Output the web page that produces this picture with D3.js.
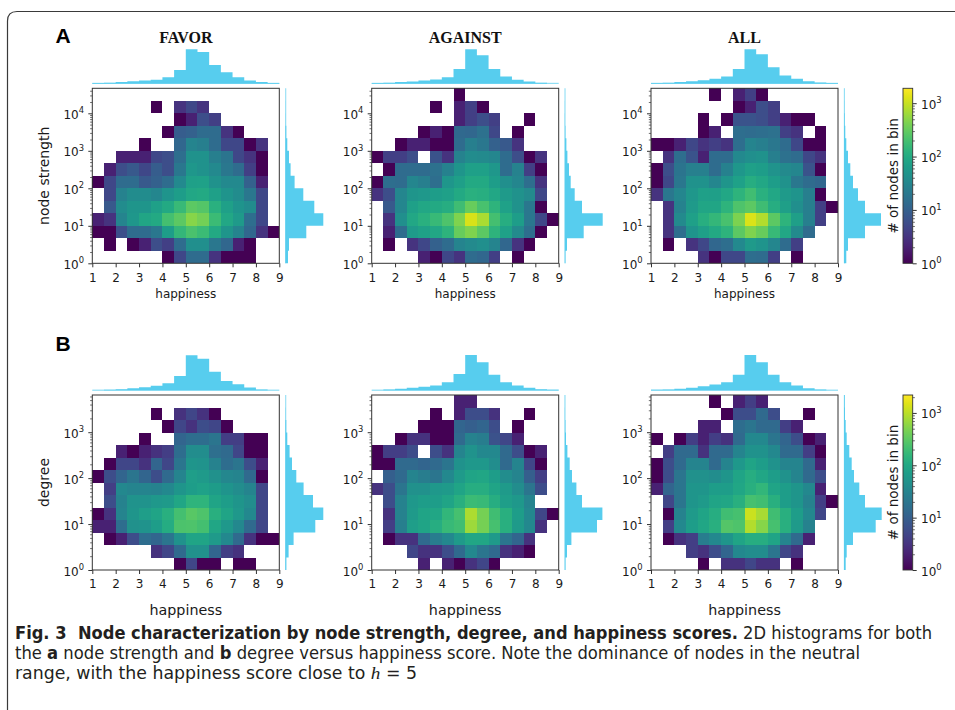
<!DOCTYPE html>
<html>
<head>
<meta charset="utf-8">
<script src="https://cdn.jsdelivr.net/npm/d3@7"></script>
<style>
  body { margin: 0; background: #fff; }
  svg { display: block; }
</style>
</head>
<body>
<svg id="fig" width="955" height="710"></svg>
<script>
// ---------------------------------------------------------------------------
// Data: 2D histograms of happiness (16 bins of 0.5 from 1 to 9) against
// node strength / degree (14 logarithmic bins). Each grid lists its rows from
// the highest bin down to the lowest; 0 means an empty bin.
// ---------------------------------------------------------------------------
const happinessEdges = [1, 1.5, 2, 2.5, 3, 3.5, 4, 4.5, 5, 5.5, 6, 6.5, 7, 7.5, 8, 8.5, 9];
const happinessTicks = [1, 2, 3, 4, 5, 6, 7, 8, 9];
const stanceTitles = ["FAVOR", "AGAINST", "ALL"];

// upper edge of the log bins (log10) for each quantity
const strengthTopExp = 14 / 3;
const degreeTopExp = 3.81;
// upper end of the colour scale (# of nodes in bin)
const strengthColorMax = 1900;
const degreeColorMax = 2200;

const favorStrength = [
  [0,0,0,0,0,0,0,0,0,0,0,0,0,0,0,0],
  [0,0,0,0,0,1,0,3,5,3,0,0,0,0,0,0],
  [0,0,0,0,0,0,0,1,2,6,4,0,0,0,0,0],
  [0,0,0,0,0,0,1,9,10,14,14,3,1,0,0,0],
  [0,0,0,0,1,0,0,12,30,25,14,5,5,1,3,0],
  [0,0,2,2,2,5,6,15,45,45,25,18,5,3,1,0],
  [0,2,6,8,5,9,6,20,55,45,35,20,14,4,1,0],
  [1,5,14,14,8,10,14,35,70,72,45,35,35,10,2,0],
  [0,5,28,38,38,32,50,65,90,95,70,50,38,20,5,0],
  [0,8,38,52,52,70,95,160,280,250,120,70,50,38,5,0],
  [2,3,30,55,85,95,200,280,480,380,170,90,60,15,5,0],
  [1,1,6,14,14,20,65,150,220,170,95,52,30,12,3,1],
  [0,1,0,1,2,6,4,14,42,42,20,12,2,1,0,0],
  [0,0,0,0,0,0,1,5,14,14,3,1,1,1,0,0]
];
const againstStrength = [
  [0,0,0,0,0,0,0,1,0,0,0,0,0,0,0,0],
  [0,0,0,0,0,1,0,2,4,1,0,0,0,0,0,0],
  [0,0,0,0,0,0,0,2,4,6,4,0,0,1,0,0],
  [0,0,0,0,1,2,1,13,12,16,5,0,1,0,0,0],
  [0,0,1,2,2,1,1,14,25,20,10,8,3,0,0,0],
  [1,4,4,6,0,7,3,28,38,36,32,14,6,1,3,0],
  [0,1,14,14,14,16,27,52,70,70,55,14,28,4,1,0],
  [1,15,14,32,25,15,53,68,95,95,65,42,32,15,3,0],
  [3,6,32,52,56,65,70,95,120,115,90,60,45,36,5,0],
  [0,8,32,70,90,95,110,180,330,210,130,72,45,20,1,0],
  [0,3,42,90,120,160,230,440,1200,720,200,110,65,20,5,1],
  [0,2,14,60,75,90,130,330,440,280,130,72,36,15,1,0],
  [0,1,0,3,5,10,14,30,36,42,30,12,3,1,0,0],
  [0,0,0,0,2,1,5,3,14,12,4,0,1,0,0,0]
];
const allStrength = [
  [0,0,0,0,0,1,0,2,4,1,0,0,0,0,0,0],
  [0,0,0,0,0,0,0,1,2,6,4,0,0,0,0,0],
  [0,0,0,0,1,0,1,7,7,6,4,2,1,1,0,0],
  [0,0,0,0,1,2,0,15,14,15,16,4,3,0,1,0],
  [1,1,2,5,3,4,3,15,30,25,20,14,5,1,1,0],
  [0,3,15,7,2,14,14,35,42,45,25,16,14,5,3,0],
  [1,6,18,26,26,14,27,55,70,65,48,36,32,7,1,0],
  [1,5,20,47,45,32,52,72,110,90,65,45,20,14,12,0],
  [3,20,32,55,70,68,90,130,190,120,90,60,50,25,1,0],
  [0,3,28,60,85,85,130,230,280,180,110,68,42,25,4,1],
  [0,3,36,70,115,150,210,430,1250,800,280,130,68,25,4,0],
  [0,3,15,50,68,95,130,280,440,330,160,90,36,14,0,0],
  [0,1,0,3,5,12,15,35,60,50,32,14,4,0,0,0],
  [0,0,0,0,3,1,5,5,15,14,4,0,1,0,0,0]
];
const favorDegree = [
  [0,0,0,0,0,0,0,0,0,0,0,0,0,0,0,0],
  [0,0,0,0,0,1,0,3,5,3,1,0,0,0,0,0],
  [0,0,0,0,0,0,1,5,3,6,5,1,0,0,0,0],
  [0,0,0,0,1,0,0,12,15,15,20,4,4,1,1,0],
  [0,0,2,1,2,3,4,15,42,42,16,14,5,1,1,0],
  [0,1,5,5,3,12,5,20,55,52,30,15,20,6,2,0],
  [1,6,12,20,12,6,14,32,72,65,48,35,32,14,1,0],
  [0,4,36,32,32,30,36,56,70,80,68,53,42,32,5,0],
  [0,6,30,52,52,60,65,95,150,150,90,70,55,42,5,0],
  [1,3,32,55,72,90,130,220,300,260,130,90,60,36,5,0],
  [2,2,15,47,52,70,115,250,260,220,95,60,36,14,5,0],
  [0,1,2,6,15,12,20,50,90,90,65,36,14,3,1,1],
  [0,0,0,0,0,3,5,14,48,48,12,4,3,0,0,0],
  [0,0,0,0,0,0,0,1,5,1,1,0,1,1,0,0]
];
const againstDegree = [
  [0,0,0,0,0,0,0,2,2,0,0,0,0,0,0,0],
  [0,0,0,0,0,1,0,2,6,6,3,0,0,1,0,0],
  [0,0,0,0,1,1,1,12,10,12,6,0,1,0,0,0],
  [0,0,1,3,3,1,1,14,30,25,7,5,2,0,0,0],
  [1,4,4,6,0,6,3,32,52,36,36,14,6,1,2,0],
  [1,1,14,14,12,14,20,50,60,60,42,14,32,5,1,0],
  [0,10,14,32,25,20,36,65,90,95,70,42,32,10,4,0],
  [3,6,20,48,48,60,65,90,120,120,90,65,42,20,6,0],
  [0,6,30,60,70,70,90,130,190,180,120,72,60,32,0,0],
  [0,3,30,65,90,95,160,230,850,440,210,130,70,36,5,1],
  [0,4,27,72,90,120,180,210,720,440,230,130,65,36,3,0],
  [0,1,3,3,14,25,36,65,95,95,65,20,12,3,0,0],
  [0,0,0,5,3,3,6,14,36,20,14,3,2,1,0,0],
  [0,0,0,0,2,0,2,1,3,5,1,0,0,0,0,0]
];
const allDegree = [
  [0,0,0,0,0,1,0,2,4,2,0,0,0,0,0,0],
  [0,0,0,0,0,0,1,6,6,14,6,0,0,1,0,0],
  [0,0,0,0,2,2,0,15,20,14,14,4,2,0,0,0],
  [1,0,1,4,2,4,3,14,36,36,20,12,6,1,2,0],
  [0,4,14,14,3,14,14,32,50,50,36,14,14,4,1,0],
  [1,6,14,32,32,14,32,60,90,70,50,32,32,14,2,0],
  [1,6,20,48,48,42,55,90,120,95,70,50,32,14,6,0],
  [2,12,20,55,55,70,70,95,130,160,90,70,55,36,2,0],
  [0,5,20,55,65,90,95,130,230,210,130,70,55,30,4,1],
  [0,1,30,65,90,120,210,230,1200,800,210,130,70,36,5,0],
  [0,4,36,70,95,130,280,260,900,550,230,130,65,30,0,0],
  [0,1,3,4,25,36,55,90,120,120,90,32,14,2,0,0],
  [0,0,0,4,3,6,12,36,42,42,20,5,3,0,0,0],
  [0,0,0,0,1,0,3,3,5,3,3,0,1,0,0,0]
];

// marginal histograms of happiness (relative heights, one per happiness bin)
const favorStrengthTop   = [0.7,1,1.7,2.7,3.3,4,6.7,14,35,32.3,19,11.7,6.7,3.3,1.7,0.7];
const againstStrengthTop = [0.7,1,1.7,2.3,3.3,4.3,6.7,15,35,29,15,7.3,4,2.3,1,0.3];
const allStrengthTop     = [0.7,1,1.7,2.7,3.7,5,7.3,15,35,30,16.7,8.3,5,2.7,1.3,0.7];
const favorDegreeTop     = [0.3,0.7,1.3,2.3,3.3,4.7,7.3,14.7,35.7,32.3,19,9.7,6.3,3,1,0.3];
const againstDegreeTop   = [0.3,1,1.7,2.7,3.7,5,8.3,16.7,36,28.7,16,8.3,5,2.7,1.3,0.7];
const allDegreeTop       = [0.7,1,1.7,2.7,4.3,6,8.3,16,36,28.7,16,8.3,5,2.3,1,0.3];

// marginal histograms of strength / degree (relative widths, highest bin first)
const favorStrengthSide   = [0.1,0.2,0.3,1,2,3.7,5.3,9.3,18,29,38,21,3.7,2.7];
const againstStrengthSide = [0.1,0.2,0.3,0.7,1.7,2.7,4.3,6,10,17.3,38,19,2.3,0.7];
const allStrengthSide     = [0.2,0.3,0.7,1.3,2.3,4,6.3,9,14,21,37,21,4,2.3];
const favorDegreeSide     = [0.1,0.3,1,2,4.3,6.7,11,18.3,27.7,38,30,8.3,3.3,1];
const againstDegreeSide   = [0.2,0.3,0.7,1.3,2.7,5,7.3,11.7,17.3,37.7,32.3,6.7,2.3,0.7];
const allDegreeSide       = [0.7,1,1.7,2.7,5.3,7.7,10,15.3,21,37.7,31.7,9,2.7,1.7];

const colorbarTicks = [1, 10, 100, 1000];

// ---------------------------------------------------------------------------
// Layout
// ---------------------------------------------------------------------------
const svg = d3.select("#fig");
const SANS = "'DejaVu Sans', 'Liberation Sans', sans-serif";
const HIST = "#57cdee";
const INK = "#1a1a1a";
const panelLeft = [92.3, 371.7, 651];
const pw = 187, ph = 175;

const figureRows = [
  {
    letter: "A", letterY: 43, ylabel: "node strength", topExp: strengthTopExp,
    vmax: strengthColorMax, top: 88.3, xlabelSize: 12, xlabelOffset: 34.2,
    grids: [favorStrength, againstStrength, allStrength],
    tops: [favorStrengthTop, againstStrengthTop, allStrengthTop],
    sides: [favorStrengthSide, againstStrengthSide, allStrengthSide]
  },
  {
    letter: "B", letterY: 350.7, ylabel: "degree", topExp: degreeTopExp,
    vmax: degreeColorMax, top: 395, xlabelSize: 14.3, xlabelOffset: 45,
    grids: [favorDegree, againstDegree, allDegree],
    tops: [favorDegreeTop, againstDegreeTop, allDegreeTop],
    sides: [favorDegreeSide, againstDegreeSide, allDegreeSide]
  }
];

// figure frame (rounded top-left corner)
svg.append("path")
  .attr("d", "M7.5,710 V21 Q7.5,11.5 17,11.5 H955")
  .attr("fill", "none").attr("stroke", "#3a3a3a").attr("stroke-width", 1.2);

// "10^k" label helper
function powerLabel(sel, value, size) {
  const exp = Math.round(Math.log10(value));
  sel.text("10");
  sel.append("tspan").attr("dy", -0.46 * size).attr("font-size", size * 0.7).text(exp);
}

function minorTicks(maxValue) {
  const out = [];
  for (let d = 0; Math.pow(10, d) <= maxValue; d++) {
    for (let m = 2; m <= 9; m++) {
      const v = m * Math.pow(10, d);
      if (v <= maxValue) out.push(v);
    }
  }
  return out;
}

figureRows.forEach(row => {
  const top = row.top, bottom = top + ph;
  const yMax = Math.pow(10, row.topExp);
  const yEdges = d3.range(15).map(k => Math.pow(10, k * row.topExp / 14));
  const color = d3.scaleSequentialLog(d3.interpolateViridis).domain([1, row.vmax]);
  const majors = d3.range(0, Math.floor(row.topExp) + 1).map(k => Math.pow(10, k));

  // panel letter
  svg.append("text").attr("x", 55.5).attr("y", row.letterY)
    .attr("font-family", "'Liberation Sans', Arial, sans-serif").attr("font-weight", 900)
    .attr("font-size", 21).attr("fill", "#000").text(row.letter);

  row.grids.forEach((grid, col) => {
    const left = panelLeft[col], right = left + pw;
    const g = svg.append("g");
    const x = d3.scaleLinear().domain([1, 9]).range([left, right]);
    const y = d3.scaleLog().domain([1, yMax]).range([bottom, top]);

    // column titles on the first row only
    if (row.letter === "A") {
      svg.append("text").attr("x", (left + right) / 2).attr("y", 42.7)
        .attr("text-anchor", "middle")
        .attr("font-family", "'Liberation Serif', 'Times New Roman', serif")
        .attr("font-weight", "bold").attr("font-size", 16).attr("fill", "#111")
        .text(stanceTitles[col]);
    }

    // heatmap cells
    const cells = [];
    grid.forEach((vals, r) => vals.forEach((v, c) => { if (v > 0) cells.push({ r, c, v }); }));
    g.append("g").selectAll("rect").data(cells).join("rect")
      .attr("x", d => x(happinessEdges[d.c]))
      .attr("width", d => x(happinessEdges[d.c + 1]) - x(happinessEdges[d.c]))
      .attr("y", d => y(yEdges[14 - d.r]))
      .attr("height", d => y(yEdges[13 - d.r]) - y(yEdges[14 - d.r]))
      .attr("fill", d => color(d.v))
      .attr("shape-rendering", "crispEdges");

    // top marginal histogram
    const hs = d3.scaleLinear().domain([0, 36]).range([0, 35.5]);
    const base = top - 4.5;
    const tp = [[x(1), base]];
    row.tops[col].forEach((v, i) => {
      tp.push([x(happinessEdges[i]), base - hs(v)]);
      tp.push([x(happinessEdges[i + 1]), base - hs(v)]);
    });
    tp.push([x(9), base]);
    g.append("path").attr("d", d3.line()(tp) + "Z").attr("fill", HIST);
    g.append("line").attr("x1", x(1)).attr("x2", x(9)).attr("y1", base - 0.4).attr("y2", base - 0.4)
      .attr("stroke", HIST).attr("stroke-opacity", 0.55).attr("stroke-width", 1.2);

    // side marginal histogram
    const ws = d3.scaleLinear().domain([0, 38]).range([0, 38]);
    const bx = right + 6;
    const sp = [[bx, bottom]];
    const side = row.sides[col];
    for (let k = 0; k < 14; k++) {
      const v = side[13 - k];
      sp.push([bx + ws(v), y(yEdges[k])]);
      sp.push([bx + ws(v), y(yEdges[k + 1])]);
    }
    sp.push([bx, top]);
    g.append("path").attr("d", d3.line()(sp) + "Z").attr("fill", HIST);
    g.append("line").attr("x1", bx + 0.4).attr("x2", bx + 0.4).attr("y1", top).attr("y2", bottom)
      .attr("stroke", HIST).attr("stroke-opacity", 0.55).attr("stroke-width", 1.2);

    // x axis
    const xa = g.append("g").attr("transform", `translate(0,${bottom})`)
      .call(d3.axisBottom(x).tickValues(happinessTicks).tickSize(4).tickPadding(5.9).tickFormat(d3.format("d")));
    xa.select(".domain").remove();
    xa.attr("font-size", 12).attr("font-family", SANS);
    xa.selectAll("text").attr("fill", INK);
    xa.selectAll("line").attr("stroke", "#333");

    // y axis: minor and major ticks
    const ymin = g.append("g").attr("transform", `translate(${left},0)`)
      .call(d3.axisLeft(y).tickValues(minorTicks(yMax)).tickSize(2.2).tickFormat(""));
    ymin.select(".domain").remove();
    ymin.selectAll("line").attr("stroke", "#333").attr("stroke-width", 0.7);
    const ymaj = g.append("g").attr("transform", `translate(${left},0)`)
      .call(d3.axisLeft(y).tickValues(majors).tickSize(4).tickFormat(""));
    ymaj.select(".domain").remove();
    ymaj.selectAll("line").attr("stroke", "#333");
    majors.forEach(m => {
      g.append("text").attr("x", left - 8.3).attr("y", y(m) + 5.5)
        .attr("text-anchor", "end").attr("font-family", SANS).attr("font-size", 12)
        .attr("fill", INK).call(powerLabel, m, 12);
    });

    // frame
    g.append("rect").attr("x", left).attr("y", top).attr("width", pw).attr("height", ph)
      .attr("fill", "none").attr("stroke", "#333").attr("stroke-width", 1);

    // x label
    g.append("text").attr("x", (left + right) / 2).attr("y", bottom + row.xlabelOffset)
      .attr("text-anchor", "middle").attr("font-family", SANS)
      .attr("font-size", row.xlabelSize).attr("fill", INK).text("happiness");

    // y label on the first panel of the row
    if (col === 0) {
      svg.append("text")
        .attr("transform", `translate(48.5,${(top + bottom) / 2}) rotate(-90)`)
        .attr("text-anchor", "middle").attr("font-family", SANS)
        .attr("font-size", 14).attr("fill", INK).text(row.ylabel);
    }
  });

  // colorbar
  const cbx = 903, cbw = 9.7;
  const cy = d3.scaleLog().domain([1, row.vmax]).range([bottom, top]);
  const gradId = "viridis-" + row.letter;
  const grad = svg.append("defs").append("linearGradient").attr("id", gradId)
    .attr("x1", 0).attr("y1", 1).attr("x2", 0).attr("y2", 0);
  d3.range(0, 1.0001, 0.05).forEach(t => {
    grad.append("stop").attr("offset", t).attr("stop-color", d3.interpolateViridis(t));
  });
  svg.append("rect").attr("x", cbx).attr("y", top).attr("width", cbw).attr("height", ph)
    .attr("fill", `url(#${gradId})`);
  const cmin = svg.append("g").attr("transform", `translate(${cbx + cbw},0)`)
    .call(d3.axisRight(cy).tickValues(minorTicks(row.vmax)).tickSize(2.2).tickFormat(""));
  cmin.select(".domain").remove();
  cmin.selectAll("line").attr("stroke", "#333").attr("stroke-width", 0.7);
  const cmaj = svg.append("g").attr("transform", `translate(${cbx + cbw},0)`)
    .call(d3.axisRight(cy).tickValues(colorbarTicks).tickSize(4).tickFormat(""));
  cmaj.select(".domain").remove();
  cmaj.selectAll("line").attr("stroke", "#333");
  colorbarTicks.forEach(m => {
    svg.append("text").attr("x", cbx + cbw + 8.3).attr("y", cy(m) + 5.5)
      .attr("font-family", SANS).attr("font-size", 12).attr("fill", INK)
      .call(powerLabel, m, 12);
  });
  svg.append("rect").attr("x", cbx).attr("y", top).attr("width", cbw).attr("height", ph)
    .attr("fill", "none").attr("stroke", "#333").attr("stroke-width", 0.9);
  svg.append("text")
    .attr("transform", `translate(897.5,${(top + bottom) / 2}) rotate(-90)`)
    .attr("text-anchor", "middle").attr("font-family", SANS)
    .attr("font-size", 13.5).attr("fill", INK).text("# of nodes in bin");
});

// ---------------------------------------------------------------------------
// Caption
// ---------------------------------------------------------------------------
const CAP = "'Liberation Sans Narrow', 'DejaVu Sans Condensed', 'Liberation Sans', sans-serif";
const captionLines = [
  { y: 638.5, width: 917, parts: [
    { t: "Fig.\u00a03\u00a0\u00a0Node characterization by node strength, degree, and happiness scores.", b: true },
    { t: " 2D histograms for both" } ] },
  { y: 658.5, width: 845, parts: [
    { t: "the " }, { t: "a", b: true }, { t: " node strength and " }, { t: "b", b: true },
    { t: " degree versus happiness score. Note the dominance of nodes in the neutral" } ] },
  { y: 678.5, width: 402, parts: [
    { t: "range, with the happiness score close to " }, { t: "h", i: true }, { t: " = 5" } ] }
];
captionLines.forEach(line => {
  const txt = svg.append("text").attr("x", 15).attr("y", line.y)
    .attr("font-family", CAP).attr("font-size", 17).attr("fill", "#231f20")
    .attr("textLength", line.width).attr("lengthAdjust", "spacingAndGlyphs")
    .style("white-space", "pre");
  line.parts.forEach(p => {
    const s = txt.append("tspan").text(p.t);
    if (p.b) s.attr("font-weight", "bold");
    if (p.i) s.attr("font-style", "italic").attr("font-family", "'Liberation Serif', serif");
  });
});
</script>
</body>
</html>
